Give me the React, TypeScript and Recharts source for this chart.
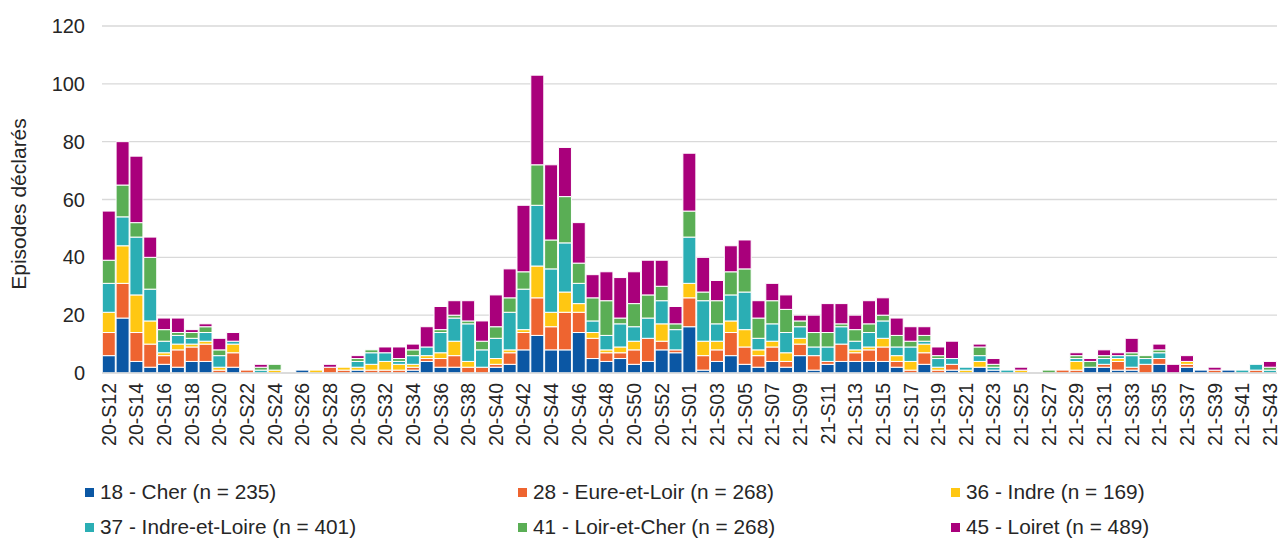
import React from 'react';
import { BarChart, Bar, XAxis, YAxis, CartesianGrid, Legend } from 'recharts';

// weekly reporting periods, 2020-S12 to 2021-S43
const weeks = [
  '20-S12', '20-S13', '20-S14', '20-S15', '20-S16', '20-S17', '20-S18', '20-S19', '20-S20', '20-S21',
  '20-S22', '20-S23', '20-S24', '20-S25', '20-S26', '20-S27', '20-S28', '20-S29', '20-S30', '20-S31',
  '20-S32', '20-S33', '20-S34', '20-S35', '20-S36', '20-S37', '20-S38', '20-S39', '20-S40', '20-S41',
  '20-S42', '20-S43', '20-S44', '20-S45', '20-S46', '20-S47', '20-S48', '20-S49', '20-S50', '20-S51',
  '20-S52', '20-S53', '21-S01', '21-S02', '21-S03', '21-S04', '21-S05', '21-S06', '21-S07', '21-S08',
  '21-S09', '21-S10', '21-S11', '21-S12', '21-S13', '21-S14', '21-S15', '21-S16', '21-S17', '21-S18',
  '21-S19', '21-S20', '21-S21', '21-S22', '21-S23', '21-S24', '21-S25', '21-S26', '21-S27', '21-S28',
  '21-S29', '21-S30', '21-S31', '21-S32', '21-S33', '21-S34', '21-S35', '21-S36', '21-S37', '21-S38',
  '21-S39', '21-S40', '21-S41', '21-S42', '21-S43',
];

const cher = [
  6, 19, 4, 2, 3, 2, 4, 4, 0, 2,
  0, 0, 0, 0, 1, 0, 0, 0, 1, 0,
  0, 0, 1, 4, 2, 2, 0, 0, 2, 3,
  8, 13, 8, 8, 14, 5, 4, 5, 3, 4,
  8, 7, 16, 1, 4, 6, 3, 2, 4, 2,
  6, 1, 3, 4, 4, 4, 4, 2, 0, 3,
  0, 1, 0, 2, 1, 0, 0, 0, 0, 0,
  0, 2, 2, 1, 1, 0, 3, 0, 2, 1,
  0, 1, 0, 0, 0,
];

const eureEtLoir = [
  8, 12, 10, 8, 3, 6, 5, 6, 1, 5,
  1, 0, 0, 0, 0, 0, 2, 1, 0, 1,
  1, 1, 1, 1, 3, 4, 2, 2, 1, 4,
  6, 13, 8, 13, 7, 7, 3, 2, 5, 8,
  3, 1, 10, 5, 4, 8, 6, 4, 5, 2,
  4, 5, 1, 6, 3, 4, 5, 2, 1, 4,
  1, 2, 0, 0, 0, 0, 0, 0, 0, 1,
  1, 0, 1, 3, 1, 3, 2, 0, 1, 0,
  1, 0, 0, 1, 0,
];

const indre = [
  7, 13, 13, 8, 1, 2, 1, 1, 1, 3,
  0, 0, 1, 0, 0, 1, 0, 1, 1, 2,
  3, 2, 1, 1, 2, 5, 2, 0, 2, 1,
  1, 11, 5, 7, 3, 2, 1, 2, 3, 0,
  6, 0, 5, 5, 3, 4, 6, 2, 2, 3,
  2, 0, 0, 0, 1, 1, 3, 2, 3, 3,
  1, 0, 1, 2, 0, 0, 1, 0, 0, 0,
  3, 0, 0, 1, 0, 0, 0, 0, 1, 0,
  0, 0, 0, 0, 0,
];

const indreEtLoire = [
  10, 10, 20, 11, 4, 3, 2, 3, 4, 1,
  0, 1, 0, 0, 0, 0, 0, 0, 2, 4,
  3, 1, 3, 3, 7, 8, 13, 6, 7, 13,
  14, 21, 15, 17, 7, 4, 5, 8, 5, 7,
  8, 7, 16, 14, 6, 9, 13, 4, 6, 7,
  4, 3, 5, 6, 3, 5, 6, 3, 5, 1,
  3, 2, 1, 2, 1, 1, 0, 0, 0, 0,
  1, 0, 2, 1, 4, 2, 2, 0, 0, 0,
  0, 0, 1, 2, 1,
];

const loirEtCher = [
  8, 11, 5, 11, 4, 1, 2, 2, 2, 0,
  0, 1, 2, 0, 0, 0, 0, 0, 1, 1,
  0, 1, 2, 0, 1, 1, 1, 3, 4, 5,
  6, 14, 10, 16, 7, 8, 12, 2, 8, 8,
  5, 2, 9, 3, 8, 8, 8, 7, 8, 8,
  2, 5, 5, 1, 4, 3, 2, 4, 2, 2,
  1, 0, 0, 3, 1, 0, 0, 0, 1, 0,
  1, 2, 1, 0, 1, 1, 1, 0, 0, 0,
  0, 0, 0, 0, 1,
];

const loiret = [
  17, 15, 23, 7, 4, 5, 1, 1, 4, 3,
  0, 1, 0, 0, 0, 0, 1, 0, 1, 0,
  2, 4, 2, 7, 8, 5, 7, 7, 11, 10,
  23, 31, 26, 17, 14, 8, 10, 14, 11, 12,
  9, 6, 20, 12, 7, 9, 10, 6, 6, 5,
  2, 6, 10, 7, 5, 8, 6, 6, 5, 3,
  3, 6, 0, 1, 2, 0, 1, 0, 0, 0,
  1, 1, 2, 1, 5, 0, 2, 3, 2, 0,
  1, 0, 0, 0, 2,
];

const yTicks = [0, 20, 40, 60, 80, 100, 120];

const series = [
  { key: 'cher', name: '18 - Cher (n = 235)', color: '#0B57A4', values: cher },
  { key: 'eure', name: '28 - Eure-et-Loir (n = 268)', color: '#EE6430', values: eureEtLoir },
  { key: 'indre', name: '36 - Indre (n = 169)', color: '#FFC712', values: indre },
  { key: 'indreLoire', name: '37 - Indre-et-Loire (n = 401)', color: '#2BAEB4', values: indreEtLoire },
  { key: 'loirCher', name: '41 - Loir-et-Cher (n = 268)', color: '#5AAE55', values: loirEtCher },
  { key: 'loiret', name: '45 - Loiret (n = 489)', color: '#A9007B', values: loiret },
];

const data = weeks.map((week, i) => {
  const row: Record<string, string | number> = { week };
  series.forEach((s) => {
    row[s.key] = s.values[i];
  });
  return row;
});

const TEXT = '#262626';

const WeekTick = ({ x, y, payload }: any) => (
  <g transform={`translate(${x},${y})`}>
    <text
      transform="rotate(-90)"
      x={-2}
      y={0}
      dy="0.35em"
      textAnchor="end"
      fontSize={19.5}
      fill={TEXT}
    >
      {payload.value}
    </text>
  </g>
);

const YTitle = () => (
  <text
    x={18}
    y={204}
    transform="rotate(-90 18 204)"
    textAnchor="middle"
    dominantBaseline="central"
    fontSize={21}
    fill={TEXT}
  >
    Episodes déclarés
  </text>
);

const LegendBox = () => (
  <div style={{ position: 'relative', width: 1285, height: 70 }}>
    {series.map((s, i) => (
      <div
        key={s.key}
        style={{
          position: 'absolute',
          left: 85 + (i % 3) * 433,
          top: Math.floor(i / 3) * 35,
          height: 24,
          lineHeight: '24px',
          fontSize: 20.8,
          color: TEXT,
          whiteSpace: 'nowrap',
          display: 'flex',
          alignItems: 'center',
        }}
      >
        <span
          style={{
            display: 'inline-block',
            width: 9,
            height: 9,
            background: s.color,
            marginRight: 6,
          }}
        />
        {s.name}
      </div>
    ))}
  </div>
);

export default function App() {
  return (
    <div
      style={{
        position: 'absolute',
        left: 0,
        top: 0,
        width: 1285,
        height: 539,
        background: '#fff',
        fontFamily: '"Liberation Sans", Arial, sans-serif',
      }}
    >
      <BarChart
        width={1285}
        height={539}
        data={data}
        margin={{ top: 26, right: 8, left: 0, bottom: 86 }}
        barCategoryGap="2%"
      >
        <CartesianGrid vertical={false} stroke="#D9D9D9" strokeWidth={1.3} />
        <XAxis
          dataKey="week"
          interval={1}
          height={80}
          tickLine={false}
          axisLine={{ stroke: '#D9D9D9', strokeWidth: 1.3 }}
          tick={<WeekTick />}
        />
        <YAxis
          width={102}
          domain={[0, 120]}
          ticks={yTicks}
          axisLine={false}
          tickLine={false}
          tickMargin={11}
          tick={{ fontSize: 20, fill: TEXT }}
          label={{ content: () => <YTitle /> }}
        />
        <Legend
          verticalAlign="middle"
          layout="horizontal"
          wrapperStyle={{ top: 480, left: 0, width: 1285 }}
          content={() => <LegendBox />}
        />
        {series.map((s) => (
          <Bar
            key={s.key}
            dataKey={s.key}
            name={s.name}
            stackId="a"
            fill={s.color}
            stroke="#fff"
            strokeWidth={1}
            isAnimationActive={false}
          />
        ))}
      </BarChart>
    </div>
  );
}
